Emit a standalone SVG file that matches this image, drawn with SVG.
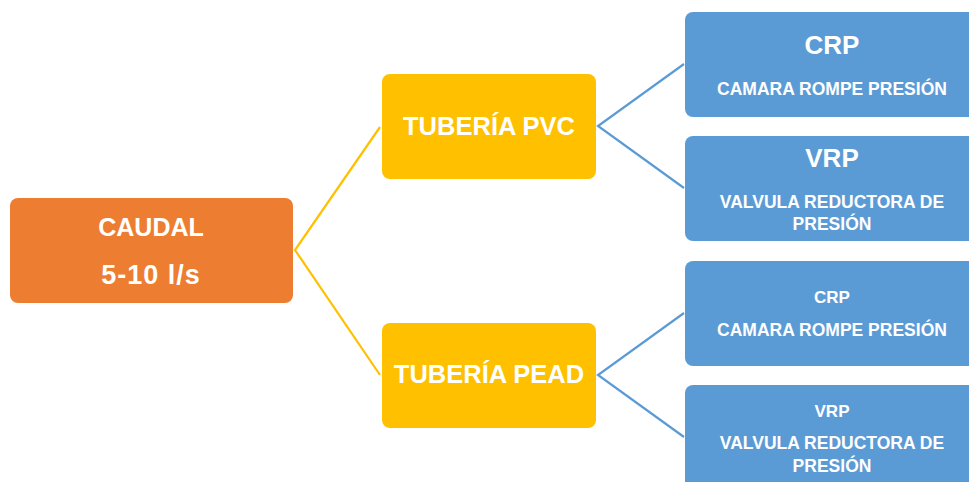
<svg xmlns="http://www.w3.org/2000/svg" width="969" height="482" viewBox="0 0 969 482">
<style>
.t{font-family:"Liberation Sans",Arial,sans-serif;font-weight:bold;fill:#fff;text-anchor:middle}
.orange{fill:#ED7D31}
.yellow{fill:#FFC000}
.blue{fill:#5B9BD5}
.cy{stroke:#FFC000;stroke-width:2.2;fill:none}
.cb{stroke:#5B9BD5;stroke-width:2.2;fill:none}
</style>
<rect width="969" height="482" fill="#fff"/>
<g id="connectors">
<polyline class="cy" points="380,127 295,250 380,375"/>
<polyline class="cb" points="684,64 598,126 684,188"/>
<polyline class="cb" points="684,313 598,375 684,437"/>
</g>
<g id="caudal">
<rect class="orange" x="10" y="198" width="283" height="105" rx="8"/>
<text class="t" x="151" y="236" font-size="25">CAUDAL</text>
<text class="t" x="151" y="284" font-size="27" letter-spacing="1">5-10 l/s</text>
</g>
<g id="pvc">
<rect class="yellow" x="382" y="74" width="214" height="105" rx="8"/>
<text class="t" x="489" y="135" font-size="25.5">TUBERÍA PVC</text>
</g>
<g id="pead">
<rect class="yellow" x="382" y="323" width="214" height="105" rx="8"/>
<text class="t" x="489" y="383" font-size="25.5">TUBERÍA PEAD</text>
</g>
<g id="crp1">
<rect class="blue" x="685" y="12" width="294" height="105" rx="8"/>
<text class="t" x="832" y="54" font-size="26">CRP</text>
<text class="t" x="832" y="95" font-size="17.5">CAMARA ROMPE PRESIÓN</text>
</g>
<g id="vrp1">
<rect class="blue" x="685" y="136" width="294" height="105" rx="8"/>
<text class="t" x="832" y="167" font-size="26">VRP</text>
<text class="t" x="832" y="208" font-size="17.5">VALVULA REDUCTORA DE</text>
<text class="t" x="832" y="230" font-size="17.5">PRESIÓN</text>
</g>
<g id="crp2">
<rect class="blue" x="685" y="261" width="294" height="105" rx="8"/>
<text class="t" x="832" y="303" font-size="17">CRP</text>
<text class="t" x="832" y="336" font-size="17.5">CAMARA ROMPE PRESIÓN</text>
</g>
<g id="vrp2">
<rect class="blue" x="685" y="385" width="294" height="110" rx="8"/>
<text class="t" x="832" y="417" font-size="17">VRP</text>
<text class="t" x="832" y="449" font-size="17.5">VALVULA REDUCTORA DE</text>
<text class="t" x="832" y="472" font-size="17.5">PRESIÓN</text>
</g>
</svg>
